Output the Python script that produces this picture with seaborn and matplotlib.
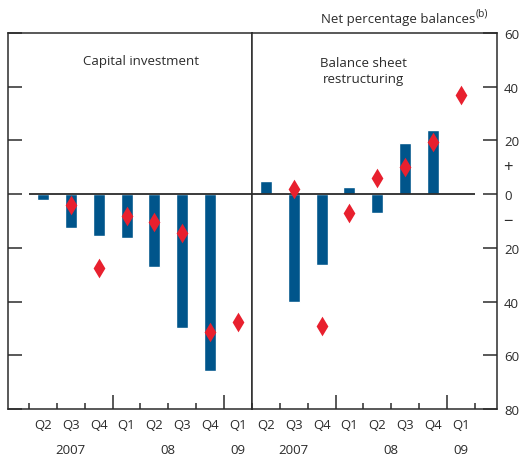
import numpy as np
import pandas as pd
import matplotlib
matplotlib.use('Agg')
import matplotlib.pyplot as plt
import seaborn as sns

# data (net percentage balances)
periods = ['2007 Q2', '2007 Q3', '2007 Q4', '2008 Q1', '2008 Q2', '2008 Q3', '2008 Q4', '2009 Q1']
quarter_labels = ['Q2', 'Q3', 'Q4', 'Q1', 'Q2', 'Q3', 'Q4', 'Q1']
year_labels = ['2007', '08', '09']
year_positions = [1, 4.5, 7]

capital_bars = [-2, -12.5, -15.5, -16.5, -27, -50, -66, np.nan]
capital_diamonds = [np.nan, -4, -27.5, -8, -10.5, -14.5, -51.5, -47.5]
balance_bars = [5, -40, -26.5, 2.5, -7, 19, 24, np.nan]
balance_diamonds = [np.nan, 2, -49, -7, 6, 10, 19.5, 37]

y_ticks = [-80, -60, -40, -20, 0, 20, 40, 60]
y_tick_labels = ['80', '60', '40', '20', '0', '20', '40', '60']

BLUE = '#00558b'
RED = '#e8202e'
INK = '#2b2b2b'

sns.set_style('white')
plt.rcParams['font.family'] = ['Open Sans', 'DejaVu Sans']
plt.rcParams['font.size'] = 9.5
plt.rcParams['text.color'] = INK
plt.rcParams['axes.edgecolor'] = INK
plt.rcParams['xtick.color'] = INK
plt.rcParams['ytick.color'] = INK


def draw_panel(ax, bars, diamonds, xlim):
    df = pd.DataFrame({'period': periods, 'bar': bars, 'diamond': diamonds})
    sns.barplot(data=df, x='period', y='bar', order=periods, color=BLUE,
                width=0.43, saturation=1, errorbar=None, ax=ax, zorder=2)
    sns.stripplot(data=df, x='period', y='diamond', order=periods, color=RED,
                  marker='d', size=10, jitter=False, linewidth=0, ax=ax, zorder=4)
    ax.set_xlim(*xlim)
    ax.set_ylim(-80, 60)
    ax.set_xlabel('')
    ax.set_ylabel('')
    for s in ax.spines.values():
        s.set_visible(True)
        s.set_linewidth(1.1)
        s.set_color(INK)

    # quarter boundaries: long ticks at year changes, short ones elsewhere
    ax.set_xticks([2.5, 6.5])
    ax.set_xticks([-0.5, 0.5, 1.5, 3.5, 4.5, 5.5, 7.5], minor=True)
    ax.tick_params(axis='x', which='major', direction='in', length=10, width=1.1,
                   labelbottom=False, bottom=True)
    ax.tick_params(axis='x', which='minor', direction='in', length=4.5, width=1.1,
                   labelbottom=False, bottom=True)

    trans = ax.get_xaxis_transform()
    for i, q in enumerate(quarter_labels):
        ax.text(i, -0.042, q, transform=trans, ha='center', va='center')
    for x, y in zip(year_positions, year_labels):
        ax.text(x, -0.107, y, transform=trans, ha='center', va='center')

    ax.set_yticks(y_ticks)


fig = plt.figure(figsize=(5.25, 4.6), dpi=100)
ax1 = fig.add_axes([8 / 525, 50 / 460, 244 / 525, 376 / 460])
ax2 = fig.add_axes([252 / 525, 50 / 460, 245 / 525, 376 / 460])

draw_panel(ax1, capital_bars, capital_diamonds, (-1.25, 7.5))
draw_panel(ax2, balance_bars, balance_diamonds, (-0.5, 8.3))

ax1.hlines(0, -0.5, 7.5, color=INK, lw=1.3, zorder=3)
ax2.hlines(0, -0.5, 7.5, color=INK, lw=1.3, zorder=3)

ax1.tick_params(axis='y', direction='in', length=10, width=1.1,
                left=True, right=False, labelleft=False, labelright=False)
ax2.tick_params(axis='y', direction='in', length=10, width=1.1, pad=5,
                left=False, right=True, labelleft=False, labelright=True)
ax2.set_yticklabels(y_tick_labels)
ax2.text(1.026, 10, '+', transform=ax2.get_yaxis_transform(), ha='left', va='center',
         fontsize=12)
ax2.text(1.026, -10, '\u2212', transform=ax2.get_yaxis_transform(), ha='left', va='center',
         fontsize=12)

ax1.text(0.545, 0.926, 'Capital investment', transform=ax1.transAxes,
         ha='center', va='center')
ax2.text(0.455, 0.9, 'Balance sheet\nrestructuring', transform=ax2.transAxes,
         ha='center', va='center', linespacing=1.25)

fig.text(475 / 525, 1 - 20 / 460, 'Net percentage balances', ha='right', va='center')
fig.text(476 / 525, 1 - 14 / 460, '(b)', ha='left', va='center', fontsize=7.5)

fig.savefig('out.png', dpi=100)
